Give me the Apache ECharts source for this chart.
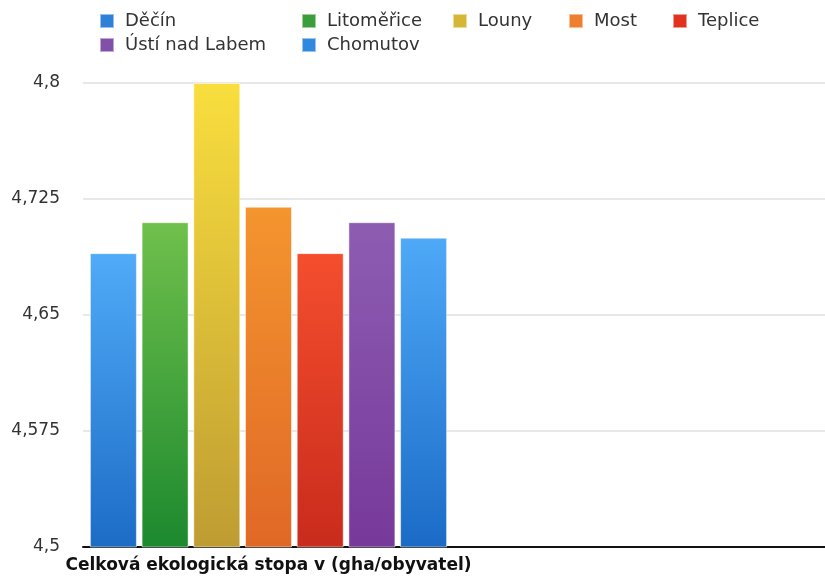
<!DOCTYPE html>
<html>
<head>
<meta charset="utf-8">
<script src="https://cdn.jsdelivr.net/npm/echarts@6/dist/echarts.min.js"></script>
<style>
  html, body { margin: 0; padding: 0; background: #fff; }
  #chart { width: 825px; height: 576px; }
</style>
</head>
<body>
<div id="chart"></div>
<script>
// Ecological footprint per district (gha per inhabitant)
const categories = ['Celková ekologická stopa v (gha/obyvatel)', ''];
const districts = ['Děčín', 'Litoměřice', 'Louny', 'Most', 'Teplice', 'Ústí nad Labem', 'Chomutov'];
const footprint = [4.69, 4.71, 4.80, 4.72, 4.69, 4.71, 4.70];
const yTicks = [4.5, 4.575, 4.65, 4.725, 4.8];

// gradient stops per district: top, bottom, legend swatch
const palette = [
  ['#51abf8', '#1c6cc6', '#2f80d9'],
  ['#70c04c', '#1c892e', '#3c9e3a'],
  ['#f9de3e', '#bf9c32', '#d6b634'],
  ['#f4952f', '#e06826', '#ef7f2e'],
  ['#f44e2e', '#c92b1c', '#e0321f'],
  ['#8d5db2', '#77399a', '#8150a9'],
  ['#4ea9f7', '#1b6bc6', '#3088df']
];

// legend anchor points (icon left, row top)
const legendPos = [
  [99, 12], [301, 12], [452, 12], [568, 12], [672, 12],
  [99, 36], [301, 36]
];

const FONT = 'DejaVu Sans';

const series = districts.map((name, i) => ({
  name: name,
  type: 'bar',
  barWidth: 47,
  barGap: '10%',
  data: [footprint[i], null],
  itemStyle: {
    color: new echarts.graphic.LinearGradient(0, 0, 0, 1, [
      { offset: 0, color: palette[i][0] },
      { offset: 1, color: palette[i][1] }
    ]),
    borderColor: 'rgba(255,255,255,0.5)',
    borderWidth: 1
  },
  emphasis: { disabled: true }
}));

const legends = districts.map((name, i) => ({
  left: legendPos[i][0],
  top: legendPos[i][1],
  padding: 0,
  icon: 'rect',
  itemWidth: 14,
  itemHeight: 14,
  data: [{ name: name, itemStyle: { color: palette[i][2] } }],
  textStyle: {
    fontFamily: FONT,
    fontSize: 18,
    color: '#333',
    padding: [0, 0, 0, 6]
  }
}));

const chart = echarts.init(document.getElementById('chart'), null, { renderer: 'canvas' });
chart.setOption({
  animation: false,
  backgroundColor: '#fff',
  legend: legends,
  // plot area runs slightly past the right edge of the canvas
  grid: { left: 83, width: 752, top: 83, bottom: 29, containLabel: false },
  xAxis: {
    type: 'category',
    data: categories,
    axisLine: { show: true, lineStyle: { color: '#111', width: 2 } },
    axisTick: { show: false },
    axisLabel: {
      interval: 0,
      margin: 10,
      fontFamily: FONT,
      fontSize: 17,
      fontWeight: 'bold',
      color: '#111'
    },
    splitLine: { show: false }
  },
  yAxis: {
    type: 'value',
    min: yTicks[0],
    max: yTicks[yTicks.length - 1],
    interval: yTicks[1] - yTicks[0],
    axisLine: { show: false },
    axisTick: { show: false },
    axisLabel: {
      margin: 23,
      fontFamily: FONT,
      fontSize: 17,
      color: '#333',
      formatter: v => String(Number(v.toFixed(3))).replace('.', ',')
    },
    splitLine: { lineStyle: { color: '#e8e8e8', width: 2 } }
  },
  series: series
});
</script>
</body>
</html>
